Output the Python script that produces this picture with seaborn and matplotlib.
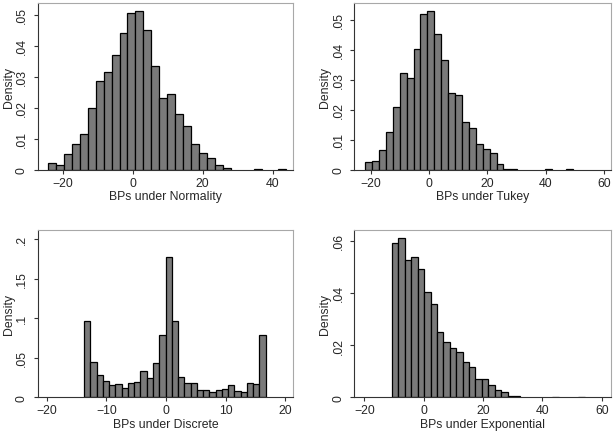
import matplotlib
matplotlib.use("Agg")
import matplotlib.pyplot as plt
import numpy as np
import pandas as pd
import seaborn as sns

# bin densities (Stata-style histograms)
norm_range = (-24.1, 43.8)
norm_dens = [.0021, .0016, .0053, .0083, .0116, .0199, .0286, .0315, .0370, .0439,
             .0505, .0512, .0449, .0333, .0232, .0245, .0180, .0141, .0083, .0056,
             .0038, .0016, .0005, 0, 0, 0, .0003, 0, 0, .0003]

tukey_range = (-22.06, 49.3)
tukey_dens = [.0025, .0029, .0068, .0127, .0208, .0321, .0306, .0401, .0518, .0528,
              .0453, .0367, .0255, .0249, .0160, .0141, .0088, .0069, .0055, .0020,
              .0004, .0004, 0, 0, 0, 0, .0003, 0, 0, .0003]

disc_range = (-13.7, 16.7)
disc_dens = [.0968, .0446, .0278, .0206, .0156, .0164, .0114, .0181, .0189, .0333,
             .0240, .0429, .0792, .1773, .0968, .0257, .0177, .0177, .0088, .0088,
             .0063, .0093, .0101, .0152, .0080, .0072, .0177, .0164, .0783]

expo_range = (-10.7, 54.2)
expo_dens = [.0593, .0609, .0525, .0537, .0492, .0405, .0356, .0250, .0212, .0189,
             .0172, .0134, .0117, .0070, .0070, .0046, .0028, .0022, .0005, .0005,
             0, 0, 0, 0, 0, .0003, 0, 0, 0, .0003]

panels = [
    ("BPs under Normality", norm_range, norm_dens, (-27.1, 45.8), [-20, 0, 20, 40],
     (0, .0537), [0, .01, .02, .03, .04, .05], ["0", ".01", ".02", ".03", ".04", ".05"]),
    ("BPs under Tukey", tukey_range, tukey_dens, (-25.8, 62.5), [-20, 0, 20, 40, 60],
     (0, .0555), [0, .01, .02, .03, .04, .05], ["0", ".01", ".02", ".03", ".04", ".05"]),
    ("BPs under Discrete", disc_range, disc_dens, (-21.5, 21.3), [-20, -10, 0, 10, 20],
     (0, .2114), [0, .05, .1, .15, .2], ["0", ".05", ".1", ".15", ".2"]),
    ("BPs under Exponential", expo_range, expo_dens, (-23.4, 63.1), [-20, 0, 20, 40, 60],
     (0, .0641), [0, .02, .04, .06], ["0", ".02", ".04", ".06"]),
]

sns.set_style("white")
plt.rcParams["font.family"] = ["Liberation Sans", "DejaVu Sans"]
plt.rcParams["font.size"] = 8.8

fig = plt.figure(figsize=(6.15, 4.35), dpi=100)
boxes = [
    [0.0613, 0.6069, 0.4151, 0.3839],
    [0.5761, 0.6069, 0.4174, 0.3839],
    [0.0613, 0.0844, 0.4151, 0.3846],
    [0.5761, 0.0844, 0.4174, 0.3846],
]

for box, (label, rng, dens, xlim, xt, ylim, yt, ytl) in zip(boxes, panels):
    ax = fig.add_axes(box)
    edges = np.linspace(rng[0], rng[1], len(dens) + 1)
    df = pd.DataFrame({"x": (edges[:-1] + edges[1:]) / 2, "w": dens})
    sns.histplot(data=df, x="x", weights="w", bins=len(dens), binrange=rng, ax=ax,
                 color="#7a7a7a", alpha=1, edgecolor="black", linewidth=0.9)
    # empty bins are not drawn in the original
    for p in ax.patches:
        if p.get_height() == 0:
            p.set_visible(False)
    ax.set_xlim(*xlim)
    ax.set_ylim(*ylim)
    ax.set_xticks(xt)
    ax.set_yticks(yt)
    ax.set_yticklabels(ytl, rotation=90, va="center")
    ax.set_xlabel(label, fontsize=8.8, labelpad=1)
    ax.set_ylabel("Density", fontsize=8.8, labelpad=1)
    ax.tick_params(axis="both", direction="out", length=3, width=0.8,
                   labelsize=8.8, color="#333333")
    ax.tick_params(axis="x", pad=2)
    ax.tick_params(axis="y", pad=4)
    ax.tick_params(left=True, bottom=True)
    for s in ["left", "bottom"]:
        ax.spines[s].set_color("#333333")
        ax.spines[s].set_linewidth(0.8)
    for s in ["top", "right"]:
        ax.spines[s].set_color("#a8a8a8")
        ax.spines[s].set_linewidth(0.8)

fig.savefig("out.png", dpi=100)
